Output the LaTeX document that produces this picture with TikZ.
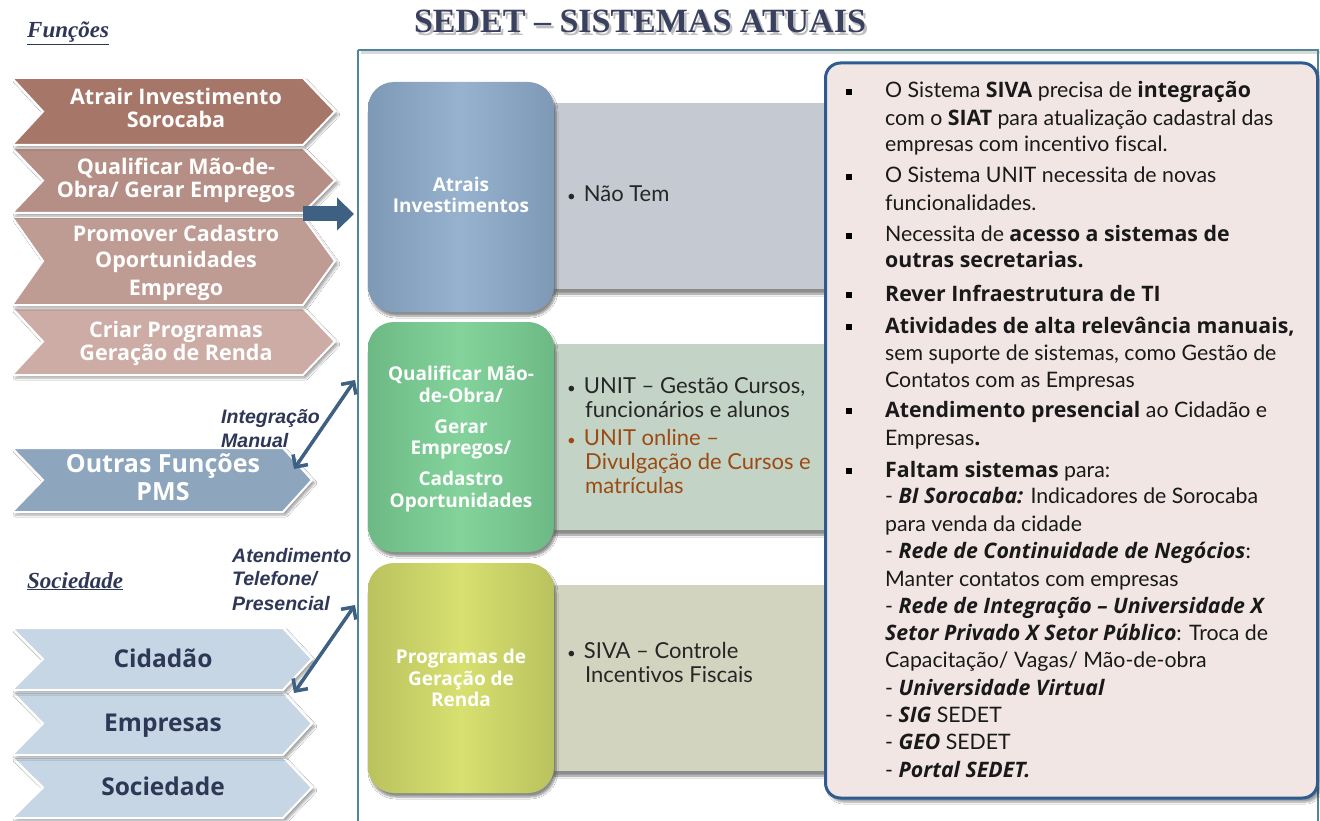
\documentclass[tikz,border=0pt]{standalone}
\usepackage{fontspec}
\setmainfont{Lato}[Ligatures={NoCommon}]
\newfontfamily\osf{Open Sans}
\newfontfamily\arialf{Liberation Sans}
\newfontfamily\tnrf{Liberation Serif}
\usetikzlibrary{arrows.meta,shadows.blur}
\definecolor{chA}{HTML}{A67768}
\definecolor{chB}{HTML}{B58F85}
\definecolor{chC}{HTML}{BF9C93}
\definecolor{chD}{HTML}{CCACA5}
\definecolor{chO}{HTML}{8EA6BD}
\definecolor{chS}{HTML}{C6D6E4}
\definecolor{navy}{HTML}{2E3755}
\definecolor{framec}{HTML}{4F8597}
\definecolor{bandA}{HTML}{C4C9D2}
\definecolor{bandB}{HTML}{C3D4C6}
\definecolor{bandC}{HTML}{D3D4BF}
\definecolor{sqA}{HTML}{96B2CE}
\definecolor{sqAe}{HTML}{7E99B5}
\definecolor{sqB}{HTML}{83D39B}
\definecolor{sqBe}{HTML}{6DB985}
\definecolor{sqC}{HTML}{D8E070}
\definecolor{sqCe}{HTML}{B9C25E}
\definecolor{panelf}{HTML}{F1E6E4}
\definecolor{panelb}{HTML}{2D5C91}
\definecolor{arrowc}{HTML}{3D6083}
\definecolor{orangec}{HTML}{9C4A12}
\definecolor{titlec}{HTML}{39415F}
\newcommand{\bo}[1]{{\osf\bfseries #1}}
\newcommand{\bi}[1]{{\osf\bfseries\itshape #1}}
\newcommand{\smb}{{\fontsize{15}{15}\selectfont\textbullet}}
\newcommand{\chevron}[5]{\draw[chev,fill=#1] (12,#2) -- (#4,#2) -- (#5,{(#2+#3)/2}) -- (#4,#3) -- (12,#3) -- (43,{(#2+#3)/2}) -- cycle;}
\begin{document}
\begin{tikzpicture}[x=1pt,y=-1pt,
  chev/.style={draw=white,line width=2pt,line join=miter,blur shadow={shadow blur steps=6,shadow xshift=3pt,shadow yshift=-3pt,shadow opacity=35}},
  chtxt/.style={anchor=base,text=white,font=\osf\fontsize{21.5}{24}\selectfont\bfseries,inner sep=0pt},
  sotxt/.style={anchor=base,text=navy,font=\osf\fontsize{24.5}{28}\selectfont\bfseries,inner sep=0pt},
  lbl/.style={anchor=base west,text=navy,font=\arialf\fontsize{19.5}{22}\selectfont\bfseries\itshape,inner sep=0pt},
  sect/.style={anchor=base west,text=navy,font=\tnrf\fontsize{23}{26}\selectfont\bfseries\itshape,inner sep=0pt},
  band/.style={draw=none,minimum width=272pt,minimum height=186pt,inner sep=0pt,blur shadow={shadow blur steps=6,shadow xshift=0pt,shadow yshift=-5pt,shadow opacity=45}},
  sqbox/.style={rounded corners=26pt,minimum width=186pt,minimum height=230pt,inner sep=0pt,blur shadow={shadow blur steps=6,shadow xshift=2pt,shadow yshift=-4pt,shadow opacity=45}},
  sqtxt/.style={anchor=base,text=white,font=\osf\fontsize{19}{22}\selectfont\bfseries,inner sep=0pt},
  btxt/.style={anchor=base west,text=black!85,font=\fontsize{22}{24}\selectfont,inner sep=0pt},
  rtxt/.style={anchor=base west,text=black!90,font=\fontsize{21.3}{27}\selectfont,inner sep=0pt},
  sqb/.style={fill=black,minimum size=6pt,inner sep=0pt},
  dbl/.style={draw=arrowc,line width=3.5pt,{Straight Barb[length=9pt,width=18pt,line width=3.5pt]}-{Straight Barb[length=9pt,width=18pt,line width=3.5pt]}},
  blockarr/.style={draw=arrowc,line width=15pt,-{Triangle[length=17pt,width=32pt]}},
  ttl/.style={anchor=base,font=\tnrf\fontsize{34}{36}\selectfont\bfseries,inner sep=0pt}
]
\useasboundingbox (0,0) rectangle (1320,821);
\fill[white] (0,0) rectangle (1320,821);

% title
\node[ttl,text=black!25] (titleSh) at (642.5,35.5) {SEDET – SISTEMAS ATUAIS};
\node[ttl,text=titlec] (title) at (640,33) {SEDET – SISTEMAS ATUAIS};

% frame
\draw[black!15,line width=3pt] (361,53) -- (1321,53);
\draw[framec,line width=1.8pt] (358,50) -- (1318,50) -- (1318,830);
\draw[framec,line width=1.8pt] (358,50) -- (358,830);

% section labels
\node[sect] (lfun) at (27,38) {\underline{Funções}};
\node[sect] (lsoc) at (27,588) {\underline{Sociedade}};

% function chevrons
\chevron{chD}{308}{375}{303}{335}
\chevron{chC}{217}{305}{303}{335}
\chevron{chB}{148}{213}{303}{335}
\chevron{chA}{78}{145}{303}{335}
\node[chtxt] (f1a) at (176,105) {Atrair Investimento};
\node[chtxt] (f1b) at (176,128) {Sorocaba};
\node[chtxt] (f2a) at (176,175) {Qualificar Mão-de-};
\node[chtxt] (f2b) at (176,198) {Obra/ Gerar Empregos};
\node[chtxt] (f3a) at (176,242) {Promover Cadastro};
\node[chtxt] (f3b) at (176,268) {Oportunidades};
\node[chtxt] (f3c) at (176,295) {Emprego};
\node[chtxt] (f4a) at (176,337) {Criar Programas};
\node[chtxt] (f4b) at (176,360) {Geração de Renda};

% outras funcoes
\chevron{chO}{448}{512}{283}{312}
\node[chtxt,font=\osf\fontsize{25}{26}\selectfont\bfseries] (o1) at (163,472) {Outras Funções};
\node[chtxt,font=\osf\fontsize{25}{26}\selectfont\bfseries] (o2) at (163,500) {PMS};

% sociedade chevrons
\chevron{chS}{757}{818}{283}{312}
\chevron{chS}{692}{755}{283}{312}
\chevron{chS}{628}{690}{283}{312}
\node[sotxt] (s1) at (163,667) {Cidadão};
\node[sotxt] (s2) at (163,731) {Empresas};
\node[sotxt] (s3) at (163,795) {Sociedade};

% labels
\node[lbl] (li1) at (221,423) {Integração};
\node[lbl] (li2) at (221,447) {Manual};
\node[lbl] (la1) at (232,562) {Atendimento};
\node[lbl] (la2) at (232,585) {Telefone/};
\node[lbl] (la3) at (232,610) {Presencial};

% bands
\node[band,fill=bandA] (bandA) at (690,196) {};
\node[band,fill=bandB] (bandB) at (690,437) {};
\node[band,fill=bandC] (bandC) at (690,678) {};

% squares
\node[sqbox,left color=sqAe,right color=sqAe,middle color=sqA] (sqA) at (461,197) {};
\node[sqbox,left color=sqBe,right color=sqBe,middle color=sqB] (sqB) at (461,437) {};
\node[sqbox,left color=sqCe,right color=sqCe,middle color=sqC] (sqC) at (461,678) {};
\node[sqtxt] (ta1) at (461,192) {Atrais};
\node[sqtxt] (ta2) at (461,213) {Investimentos};
\node[sqtxt] (tb1) at (461,380) {Qualificar Mão-};
\node[sqtxt] (tb2) at (461,402) {de-Obra/};
\node[sqtxt] (tb3) at (461,433) {Gerar};
\node[sqtxt] (tb4) at (461,454) {Empregos/};
\node[sqtxt] (tb5) at (461,485) {Cadastro};
\node[sqtxt] (tb6) at (461,507) {Oportunidades};
\node[sqtxt] (tc1) at (461,663) {Programas de};
\node[sqtxt] (tc2) at (461,685) {Geração de};
\node[sqtxt] (tc3) at (461,706) {Renda};

% band texts
\node[btxt] (n1) at (567,202) {\smb\hspace{8pt}Não Tem};
\node[btxt] (u1) at (567,393) {\smb\hspace{8pt}UNIT – Gestão Cursos,};
\node[btxt] (u2) at (585,417) {funcionários e alunos};
\node[btxt,text=orangec] (u3) at (567,445) {\smb\hspace{8pt}UNIT online –};
\node[btxt,text=orangec] (u4) at (585,469) {Divulgação de Cursos e};
\node[btxt,text=orangec] (u5) at (585,493) {matrículas};
\node[btxt] (v1) at (567,658) {\smb\hspace{8pt}SIVA – Controle};
\node[btxt] (v2) at (585,682) {Incentivos Fiscais};

% arrows
\coordinate (baS) at (303,214);
\coordinate (baE) at (354,214);
\draw[blockarr] (baS) -- (baE);
\coordinate (iaT) at (355,380);
\coordinate (iaB) at (294,469);
\draw[dbl] (iaT) -- (iaB);
\coordinate (aaT) at (355,605);
\coordinate (aaB) at (294,693);
\draw[dbl] (aaT) -- (aaB);

% right panel
\node[draw=panelb,line width=3pt,fill=panelf,rounded corners=15pt,minimum width=492pt,minimum height=735pt,inner sep=0pt,
  blur shadow={shadow blur steps=6,shadow xshift=3pt,shadow yshift=-4pt,shadow opacity=40}] (panel) at (1071.5,430.5) {};

\node[sqb] (q1) at (849,92) {};
\node[sqb] (q2) at (849,177) {};
\node[sqb] (q3) at (849,236) {};
\node[sqb] (q4) at (849,295) {};
\node[sqb] (q5) at (849,327) {};
\node[sqb] (q6) at (849,411) {};
\node[sqb] (q7) at (849,471) {};

\node[rtxt] (r1) at (885,98) {O Sistema \bo{SIVA} precisa de \bo{integração}};
\node[rtxt] (r2) at (885,126) {com o \bo{SIAT} para atualização cadastral das};
\node[rtxt] (r3) at (885,152) {empresas com incentivo fiscal.};
\node[rtxt] (r4) at (885,183) {O Sistema UNIT necessita de novas};
\node[rtxt] (r5) at (885,211) {funcionalidades.};
\node[rtxt] (r6) at (885,242) {Necessita de \bo{acesso a sistemas de}};
\node[rtxt] (r7) at (885,268) {\bo{outras secretarias.}};
\node[rtxt] (r8) at (885,301) {\bo{Rever Infraestrutura de TI}};
\node[rtxt] (r9) at (885,333) {\bo{Atividades de alta relevância manuais,}};
\node[rtxt] (r10) at (885,360) {sem suporte de sistemas, como Gestão de};
\node[rtxt] (r11) at (885,387) {Contatos com as Empresas};
\node[rtxt] (r12) at (885,417) {\bo{Atendimento presencial} ao Cidadão e};
\node[rtxt] (r13) at (885,445) {Empresas\bo{.}};
\node[rtxt] (r14) at (885,477) {\bo{Faltam sistemas} para:};
\node[rtxt] (r15) at (885,503) {- \bi{BI Sorocaba:} Indicadores de Sorocaba};
\node[rtxt] (r16) at (885,531) {para venda da cidade};
\node[rtxt] (r17) at (885,558) {- \bi{Rede de Continuidade de Negócios}:};
\node[rtxt] (r18) at (885,586) {Manter contatos com empresas};
\node[rtxt] (r19) at (885,613) {- \bi{Rede de Integração – Universidade X}};
\node[rtxt] (r20) at (885,640) {\bi{Setor Privado X Setor Público}: Troca de};
\node[rtxt] (r21) at (885,667) {Capacitação/ Vagas/ Mão-de-obra};
\node[rtxt] (r22) at (885,695) {- \bi{Universidade Virtual}};
\node[rtxt] (r23) at (885,722) {- \bi{SIG} SEDET};
\node[rtxt] (r24) at (885,749) {- \bi{GEO} SEDET};
\node[rtxt] (r25) at (885,777) {- \bi{Portal SEDET.}};
\end{tikzpicture}
\end{document}
